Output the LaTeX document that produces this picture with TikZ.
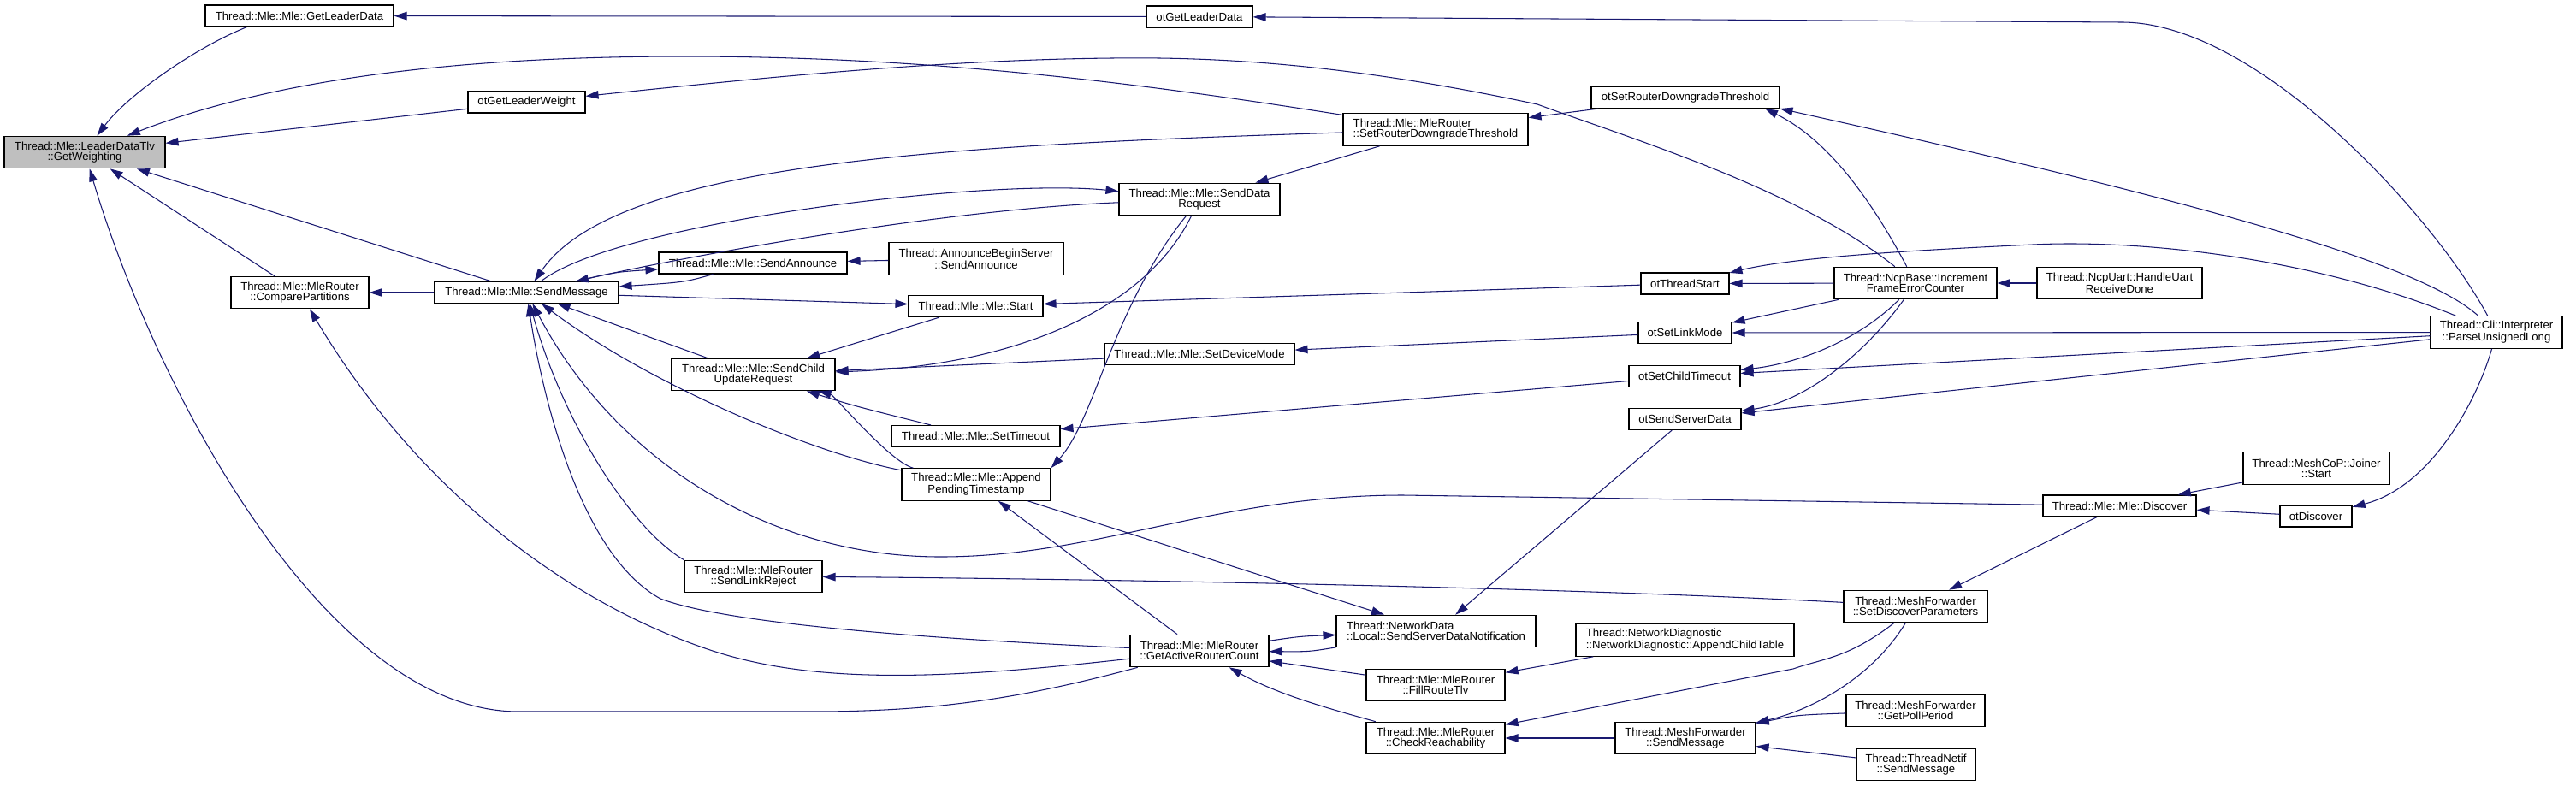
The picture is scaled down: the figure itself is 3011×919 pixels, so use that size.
\documentclass[tikz,border=0pt]{standalone}
\usepackage{fontspec}
\setmainfont{Liberation Sans}
\usepackage{xcolor}
\usepackage{tikz}
\usetikzlibrary{arrows.meta}
\definecolor{edgeblue}{RGB}{25,25,112}
\definecolor{focusgray}{RGB}{191,191,191}
\newcommand{\fnsize}{\fontsize{7.5}{6.9}\selectfont}

\begin{document}
\begin{tikzpicture}[x=0.02cm, y=-0.02cm,
  fn/.style={draw=black, fill=white, line width=0.65pt, minimum height=0.5cm, inner sep=1pt, font=\fnsize, align=center},
  fntwo/.style={fn, minimum height=0.75cm},
  fnleft/.style={fntwo, align=left},
  call/.style={draw=edgeblue, line width=0.6pt, -{Triangle[length=3mm, width=1.9mm]}}]
\useasboundingbox (0,0) rectangle (3011,919);
\node[fntwo, fill=focusgray, minimum width=3.76cm] (gw) at (99,178) {Thread::Mle::LeaderDataTlv\\::GetWeighting};
\node[fn, minimum width=4.40cm] (mgld) at (350,18.5) {Thread::Mle::Mle::GetLeaderData};
\node[fn, minimum width=2.48cm] (otgld) at (1402,19.5) {otGetLeaderData};
\node[fn, minimum width=2.74cm] (otglw) at (615.5,119.5) {otGetLeaderWeight};
\node[fnleft, minimum width=4.32cm] (srdt) at (1678,151.5) {Thread::Mle::MleRouter\\::SetRouterDowngradeThreshold};
\node[fn, minimum width=4.40cm] (otsrdt) at (1970,114) {otSetRouterDowngradeThreshold};
\node[fntwo, minimum width=3.76cm] (sdr) at (1402,233) {Thread::Mle::Mle::SendData\\Request};
\node[fn, minimum width=4.40cm] (sann) at (880,307.5) {Thread::Mle::Mle::SendAnnounce};
\node[fntwo, minimum width=4.08cm] (absann) at (1141,302.5) {Thread::AnnounceBeginServer\\::SendAnnounce};
\node[fn, minimum width=4.30cm] (sm) at (615.5,342) {Thread::Mle::Mle::SendMessage};
\node[fntwo, minimum width=3.22cm] (cp) at (350.5,342) {Thread::Mle::MleRouter\\::ComparePartitions};
\node[fn, minimum width=3.14cm] (start) at (1140.5,358) {Thread::Mle::Mle::Start};
\node[fn, minimum width=2.06cm] (otts) at (1969.5,331.5) {otThreadStart};
\node[fntwo, minimum width=3.80cm] (ifec) at (2239,331) {Thread::NcpBase::Increment\\FrameErrorCounter};
\node[fntwo, minimum width=3.86cm] (hurd) at (2477.5,331) {Thread::NcpUart::HandleUart\\ReceiveDone};
\node[fntwo, minimum width=3.08cm] (pul) at (2918,388.5) {Thread::Cli::Interpreter\\::ParseUnsignedLong};
\node[fntwo, minimum width=3.82cm] (scur) at (880.5,438) {Thread::Mle::Mle::SendChild\\UpdateRequest};
\node[fn, minimum width=4.44cm] (sdm) at (1402,414) {Thread::Mle::Mle::SetDeviceMode};
\node[fn, minimum width=2.18cm] (otslm) at (1969.5,389) {otSetLinkMode};
\node[fn, minimum width=2.60cm] (otsct) at (1969,440) {otSetChildTimeout};
\node[fn, minimum width=3.94cm] (stmo) at (1140.5,510) {Thread::Mle::Mle::SetTimeout};
\node[fntwo, minimum width=3.48cm] (apt) at (1141,566.5) {Thread::Mle::Mle::Append\\PendingTimestamp};
\node[fn, minimum width=2.62cm] (otssd) at (1969.5,490) {otSendServerData};
\node[fntwo, minimum width=3.22cm] (slr) at (880.5,674) {Thread::Mle::MleRouter\\::SendLinkReject};
\node[fn, minimum width=3.58cm] (disc) at (2477.5,591.5) {Thread::Mle::Mle::Discover};
\node[fntwo, minimum width=3.42cm] (jstart) at (2707.5,547.5) {Thread::MeshCoP::Joiner\\::Start};
\node[fn, minimum width=1.68cm] (otdisc) at (2707,603.5) {otDiscover};
\node[fntwo, minimum width=3.36cm] (sdp) at (2239,709) {Thread::MeshForwarder\\::SetDiscoverParameters};
\node[fnleft, minimum width=4.66cm] (ssdn) at (1678.5,738) {Thread::NetworkData\\::Local::SendServerDataNotification};
\node[fnleft, minimum width=5.10cm] (nd) at (1969.5,748.5) {Thread::NetworkDiagnostic\\::NetworkDiagnostic::AppendChildTable};
\node[fntwo, minimum width=3.24cm] (garc) at (1402,761) {Thread::Mle::MleRouter\\::GetActiveRouterCount};
\node[fntwo, minimum width=3.24cm] (frt) at (1678,801) {Thread::Mle::MleRouter\\::FillRouteTlv};
\node[fntwo, minimum width=3.24cm] (cr) at (1678,863) {Thread::Mle::MleRouter\\::CheckReachability};
\node[fntwo, minimum width=3.28cm] (mfsm) at (1970,863) {Thread::MeshForwarder\\::SendMessage};
\node[fntwo, minimum width=3.24cm] (gpp) at (2239,831) {Thread::MeshForwarder\\::GetPollPeriod};
\node[fntwo, minimum width=2.78cm] (tnsm) at (2239.5,894) {Thread::ThreadNetif\\::SendMessage};
\foreach \x/\y in {otglw/gw,sm/gw,cp/gw,otgld/mgld,sm/cp,absann/sann,sm/start,otts/start,start/scur,scur/sm,sdm/scur,otsct/stmo,otslm/sdm,garc/apt,apt/ssdn,otssd/ssdn,frt/garc,nd/frt,mfsm/cr,tnsm/mfsm,disc/sdp,jstart/disc,otdisc/disc,hurd/ifec,ifec/otts,ifec/otslm,pul/otslm,pul/otsct,pul/otssd,otsrdt/srdt,srdt/sdr}
  \draw[call] (\x) -- (\y);
\draw[call] (mgld.-168) .. controls (230,55) and (150,110) .. (gw);
\draw[call] (srdt) .. controls (1350,100) and (1100,66) .. (800,66) .. controls (500,66) and (300,100) .. (gw);
\draw[call] (garc) .. controls (1200,815) and (1100,832) .. (950,832) -- (606,832) .. controls (380,832) and (180,450) .. (gw);
\draw[call] (ifec) .. controls (2100,220) and (1900,160) .. (1797,122) .. controls (1600,80) and (1450,66) .. (1300,68) .. controls (1100,70) and (900,90) .. (otglw);
\draw[call] (garc) .. controls (1100,795) and (950,800) .. (830,760) .. controls (650,700) and (480,560) .. (cp);
\draw[call] (srdt) .. controls (1100,170) and (720,190) .. (sm);
\draw[call] (sdr) .. controls (1100,245) and (800,300) .. (sm);
\draw[call] (sm) .. controls (720,260) and (1150,208) .. (sdr);
\draw[call] (sm) .. controls (720,318) .. (sann);
\draw[call] (sann) .. controls (800,330) .. (sm);
\draw[call] (sdr) .. controls (1340,360) and (1190,428) .. (scur);
\draw[call] (stmo) .. controls (1000,475) .. (scur);
\draw[call] (apt) .. controls (1040,540) and (975,462) .. (scur);
\draw[call] (sdr) .. controls (1300,360) and (1280,490) .. (apt.north east);
\draw[call] (apt) .. controls (950,530) and (760,450) .. (sm);
\draw[call] (garc) .. controls (1100,748) and (850,730) .. (772,700) .. controls (680,650) and (635,470) .. (sm);
\draw[call] (slr.north west) .. controls (740,620) and (660,500) .. (sm);
\draw[call] (disc) -- (1640,579) .. controls (1420,579) and (1280,652) .. (1096,651) .. controls (900,650) and (720,540) .. (sm);
\draw[call] (garc) .. controls (1520,744) .. (ssdn);
\draw[call] (ssdn) .. controls (1530,762) .. (garc);
\draw[call] (cr) .. controls (1540,825) and (1490,810) .. (garc);
\draw[call] (sdp) .. controls (2160,770) and (2130,770) .. (2096,782) -- (cr);
\draw[call] (sdp) .. controls (2190,790) and (2120,830) .. (mfsm);
\draw[call] (gpp) .. controls (2100,836) .. (mfsm);
\draw[call] (sdp) .. controls (1800,685) and (1200,676) .. (slr);
\draw[call] (pul) .. controls (2895,470) and (2840,570) .. (otdisc);
\draw[call] (pul) .. controls (2700,300) and (2500,280) .. (2376,286) .. controls (2250,292) and (2100,300) .. (otts);
\draw[call] (ifec) .. controls (2170,400) and (2100,425) .. (otsct);
\draw[call] (ifec) .. controls (2190,400) and (2120,468) .. (otssd);
\draw[call] (pul) .. controls (2846,254) and (2640,26) .. (2480,26) -- (otgld);
\draw[call] (pul) .. controls (2820,300) and (2500,220) .. (otsrdt.south east);
\draw[call] (ifec) .. controls (2180,220) and (2130,160) .. (otsrdt.-8);
\end{tikzpicture}
\end{document}
